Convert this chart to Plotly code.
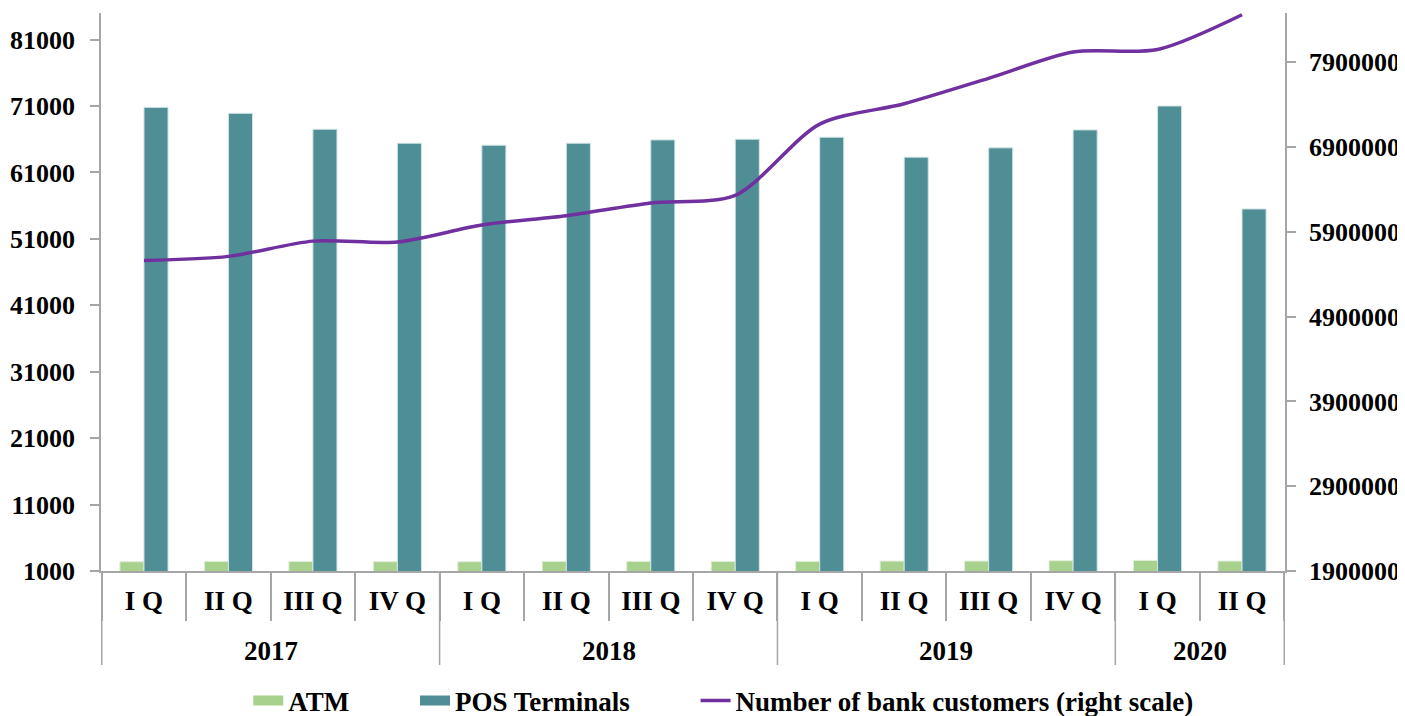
import plotly.graph_objects as go

# x axis categories (year / quarter)
years = ["2017"] * 4 + ["2018"] * 4 + ["2019"] * 4 + ["2020"] * 2
quarters = ["I Q", "II Q", "III Q", "IV Q"] * 3 + ["I Q", "II Q"]

# series values
atm = [2400, 2450, 2450, 2400, 2400, 2450, 2450, 2450,
       2450, 2500, 2500, 2550, 2600, 2500]
pos = [70800, 69900, 67500, 65400, 65100, 65400, 65900, 66000,
       66300, 63300, 64700, 67400, 71000, 55500]
customers = [5560000, 5610000, 5790000, 5780000, 5980000, 6090000, 6240000,
             6330000, 7170000, 7410000, 7710000, 8020000, 8050000, 8460000]

left_ticks = [1000, 11000, 21000, 31000, 41000, 51000, 61000, 71000, 81000]
right_ticks = [1900000, 2900000, 3900000, 4900000, 5900000, 6900000, 7900000]

FONT = "Liberation Serif"
axis_grey = "#A6A6A6"
atm_col = "#A9D18E"
pos_col = "#4F8E95"
NB = "\u00a0"

# unique category ids, labelled with the quarter name only
cats = [f"{y} {q}" for y, q in zip(years, quarters)]

fig = go.Figure()
fig.add_trace(go.Bar(x=cats, y=atm, name="ATM", showlegend=False,
                     marker=dict(color=atm_col, line=dict(color="#E2EFD9", width=1))))
fig.add_trace(go.Bar(x=cats, y=pos, name="POS Terminals", showlegend=False,
                     marker=dict(color=pos_col, line=dict(color="#D4E4E6", width=1))))
fig.add_trace(go.Scatter(x=cats, y=customers, name="<b>Number of bank customers (right scale)</b>",
                         mode="lines", yaxis="y2", legendrank=3,
                         line=dict(color="#7030A0", width=3.5, shape="spline", smoothing=0.8)))
# legend-only entries so the bar swatches look like wide blocks
fig.add_trace(go.Scatter(x=[None], y=[None], mode="lines", name="<b>ATM</b>" + NB * 9,
                         legendrank=1, line=dict(color=atm_col, width=16)))
fig.add_trace(go.Scatter(x=[None], y=[None], mode="lines", name="<b>POS Terminals</b>" + NB * 9,
                         legendrank=2, line=dict(color=pos_col, width=16)))

# year group boundaries and labels under the quarter row
shapes = []
annotations = []
groups = []
for y in years:
    if not groups or groups[-1][0] != y:
        groups.append([y, 0])
    groups[-1][1] += 1
div_bottom = -94 / 558
shapes.append(dict(type="line", xref="x", yref="paper", x0=-0.5, x1=-0.5, y0=0, y1=div_bottom,
                   line=dict(color=axis_grey, width=1.5)))
start = 0
for name, n in groups:
    end = start + n
    shapes.append(dict(type="line", xref="x", yref="paper", x0=end - 0.5, x1=end - 0.5,
                       y0=0, y1=div_bottom, line=dict(color=axis_grey, width=1.5)))
    annotations.append(dict(xref="x", yref="paper", x=(start + end - 1) / 2, y=-80 / 558,
                            yanchor="middle", showarrow=False, text=f"<b>{name}</b>",
                            font=dict(family=FONT, size=27, color="black")))
    start = end

# page body has an 8px margin, so the figure is laid out 8px smaller
fig.update_layout(
    width=1397, height=708,
    paper_bgcolor="white", plot_bgcolor="white",
    margin=dict(l=93, r=120, t=5, b=145, autoexpand=False),
    font=dict(family=FONT, size=27, color="black"),
    barmode="group", bargap=0.43, bargroupgap=0,
    showlegend=True,
    legend=dict(orientation="h", x=0.526, xanchor="center", y=-130 / 558, yanchor="middle",
                font=dict(family=FONT, size=27, color="black"),
                tracegroupgap=0, traceorder="normal"),
    shapes=shapes, annotations=annotations,
    xaxis=dict(
        type="category", tickvals=cats, ticktext=[f"<b>{q}</b>" for q in quarters],
        showline=True, linecolor=axis_grey, linewidth=1.5,
        ticks="outside", tickson="boundaries", ticklen=48, tickcolor=axis_grey, tickwidth=1.5,
        ticklabelstandoff=5,
        tickfont=dict(family=FONT, size=27, color="black"),
        showgrid=False, automargin=False,
    ),
    yaxis=dict(
        range=[1000, 85000], tickvals=left_ticks, tickformat="d",
        showline=True, linecolor=axis_grey, linewidth=1.5,
        ticks="outside", ticklen=9, tickcolor=axis_grey, tickwidth=1.5,
        ticklabelstandoff=10,
        tickfont=dict(family=FONT, size=26, color="black", weight="bold"),
        showgrid=False, zeroline=False, automargin=False,
    ),
    yaxis2=dict(
        overlaying="y", side="right",
        range=[1900000, 8480000], tickvals=right_ticks, tickformat="d",
        showline=True, linecolor=axis_grey, linewidth=1.5,
        ticks="outside", ticklen=9, tickcolor=axis_grey, tickwidth=1.5,
        ticklabelstandoff=8,
        tickfont=dict(family=FONT, size=26, color="black", weight="bold"),
        showgrid=False, zeroline=False, automargin=False,
    ),
)

fig.write_html("out.html")
